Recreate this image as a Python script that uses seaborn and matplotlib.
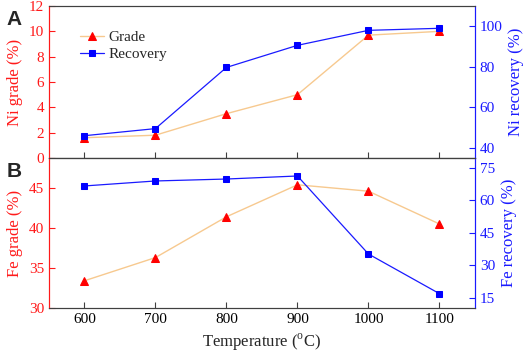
import matplotlib
matplotlib.use("Agg")
import matplotlib.pyplot as plt
import numpy as np
import pandas as pd
import seaborn as sns

# -------------------------------
# DATA
# -------------------------------
temperature = [600, 700, 800, 900, 1000, 1100]
ni_grade = [1.6, 1.8, 3.5, 5.0, 9.7, 10.0]
ni_recovery = [46.0, 49.5, 79.7, 90.6, 98.0, 99.0]
fe_grade = [33.4, 36.3, 41.4, 45.4, 44.6, 40.5]
fe_recovery = [66.7, 69.0, 69.9, 71.3, 35.3, 17.0]

sns.set_style("ticks")
plt.rcParams["font.family"] = ["Liberation Serif", "DejaVu Serif"]
plt.rcParams["mathtext.fontset"] = "custom"
plt.rcParams["mathtext.rm"] = "Liberation Serif"

RED = "#ff1a1a"
BLUE = "#1a1aff"
ORANGE = "#f7c98f"
DARK = "#404040"

fig = plt.figure(figsize=(5.26, 3.54), dpi=100)
gs = fig.add_gridspec(2, 1, left=0.093, right=0.903, top=0.983, bottom=0.13,
                      hspace=0, height_ratios=[152, 150])
ax1 = fig.add_subplot(gs[0])
ax2 = fig.add_subplot(gs[1], sharex=ax1)


def panel(ax, grade, recovery, gl, gt, rl, rt, glabel, rlabel, letter):
    df = pd.DataFrame({"T": temperature, "grade": grade, "recovery": recovery})
    axr = ax.twinx()
    sns.lineplot(data=df, x="T", y="grade", ax=ax, color=ORANGE, lw=1,
                 marker="^", markersize=6, markerfacecolor="red",
                 markeredgecolor="red", label="Grade", legend=False, zorder=3)
    sns.lineplot(data=df, x="T", y="recovery", ax=axr, color=BLUE, lw=0.9,
                 marker="s", markersize=5, markerfacecolor="blue",
                 markeredgecolor="blue", label="Recovery", legend=False, zorder=3)
    ax.set_ylim(*gl)
    ax.set_yticks(gt)
    axr.set_ylim(*rl)
    axr.set_yticks(rt)
    ax.set_ylabel(glabel, color=RED, fontsize=12)
    axr.set_ylabel(rlabel, color=BLUE, fontsize=12)
    ax.tick_params(axis="y", colors=RED, direction="in", labelsize=11, length=4)
    axr.tick_params(axis="y", colors=BLUE, direction="in", labelsize=11, length=4)
    ax.tick_params(axis="x", direction="in", colors=DARK, labelcolor="black",
                   labelsize=11, length=4)
    for a in (ax, axr):
        a.spines["top"].set_color(DARK)
        a.spines["bottom"].set_color(DARK)
        a.spines["left"].set_color(RED)
        a.spines["right"].set_color(BLUE)
        a.spines["top"].set_visible(True)
        a.spines["right"].set_visible(True)
    fig.text(0.012, ax.get_position().y1 - 0.01, letter, fontsize=15,
             fontweight="bold", family="Liberation Sans", va="top")
    return axr


axr1 = panel(ax1, ni_grade, ni_recovery, (0, 12), [0, 2, 4, 6, 8, 10, 12],
             (35, 110), [40, 60, 80, 100], "Ni grade (%)", "Ni recovery (%)", "A")
axr2 = panel(ax2, fe_grade, fe_recovery, (30, 48.75), [30, 35, 40, 45],
             (10.4, 79.6), [15, 30, 45, 60, 75], "Fe grade (%)", "Fe recovery (%)", "B")

ax1.set_xlim(550, 1150)
ax1.set_xticks(temperature)
plt.setp(ax1.get_xticklabels(), visible=False)
ax1.set_xlabel("")
ax2.set_xlabel("Temperature ($^{\\rm o}$C)", fontsize=12)

h1, l1 = ax1.get_legend_handles_labels()
h2, l2 = axr1.get_legend_handles_labels()
ax1.legend(h1 + h2, l1 + l2, loc="upper left", bbox_to_anchor=(0.04, 0.93),
           frameon=False, fontsize=11, handlelength=1.6, handletextpad=0.3,
           labelspacing=0.2)

for a in (ax1, ax2):
    a.yaxis.label.set_color(RED)

fig.savefig("out.png", dpi=100)
